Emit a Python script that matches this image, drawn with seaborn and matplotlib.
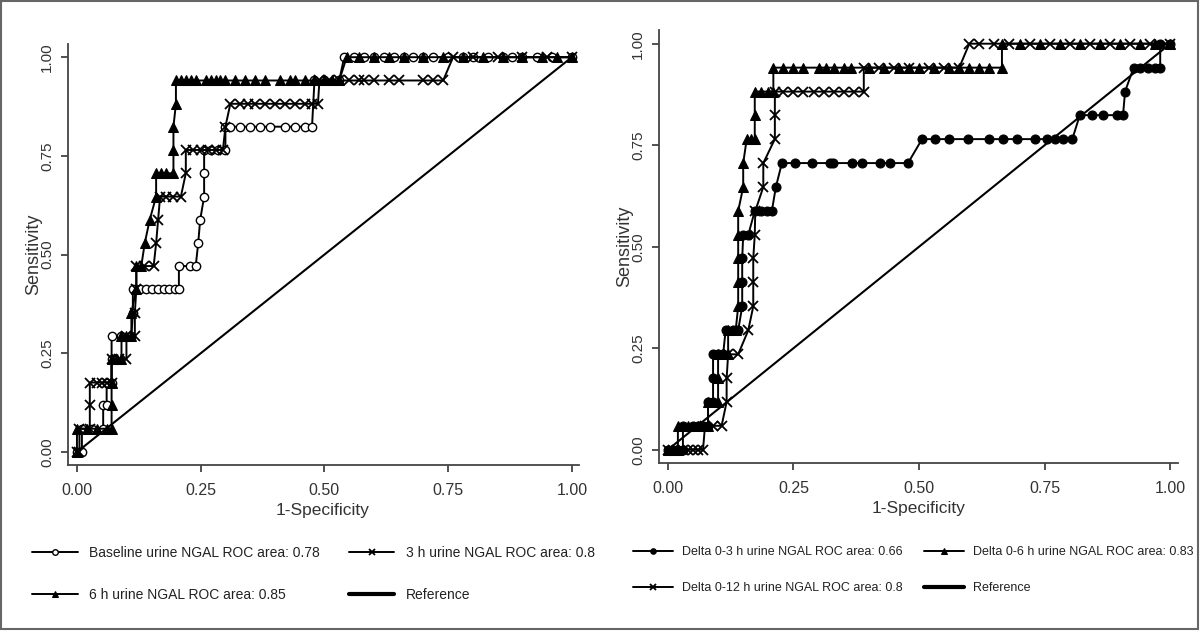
# ROC curves for urine NGAL, two panels, Stata-like look

import pandas as pd
import matplotlib
matplotlib.use('Agg')
from matplotlib import pyplot as plt
from matplotlib.patches import Rectangle
import seaborn as sns

sns.set_style('ticks')
FONT = ['Liberation Sans', 'DejaVu Sans']
plt.rcParams['font.family'] = FONT

# Data: left panel (1-specificity, sensitivity)
base_x = [0, 0.01, 0.01, 0.03, 0.053, 0.053, 0.06, 0.06, 0.07, 0.07, 0.07, 0.09, 0.11, 0.113, 0.113,
          0.128, 0.14, 0.152, 0.163, 0.175, 0.187, 0.198, 0.206, 0.206, 0.228, 0.24, 0.245, 0.249,
          0.257, 0.257, 0.257, 0.27, 0.285, 0.30, 0.30, 0.31, 0.33, 0.35, 0.37, 0.39, 0.42, 0.44,
          0.46, 0.475, 0.48, 0.50, 0.53, 0.54, 0.56, 0.58, 0.60, 0.62, 0.64, 0.66, 0.68, 0.70,
          0.72, 0.75, 0.78, 0.80, 0.83, 0.86, 0.88, 0.90, 0.93, 0.96, 1.0]
base_y = [0, 0, 0.059, 0.059, 0.059, 0.118, 0.118, 0.176, 0.176, 0.235, 0.294, 0.294, 0.294, 0.353,
          0.412, 0.412, 0.412, 0.412, 0.412, 0.412, 0.412, 0.412, 0.412, 0.471, 0.471, 0.471, 0.529,
          0.588, 0.647, 0.706, 0.765, 0.765, 0.765, 0.765, 0.824, 0.824, 0.824, 0.824, 0.824, 0.824,
          0.824, 0.824, 0.824, 0.824, 0.941, 0.941, 0.941, 1.0, 1.0, 1.0, 1.0, 1.0, 1.0, 1.0, 1.0,
          1.0, 1.0, 1.0, 1.0, 1.0, 1.0, 1.0, 1.0, 1.0, 1.0, 1.0, 1.0]

h3_x = [0, 0.005, 0.005, 0.026, 0.026, 0.026, 0.04, 0.05, 0.06, 0.07, 0.07, 0.085, 0.10, 0.10, 0.117,
        0.117, 0.12, 0.12, 0.135, 0.155, 0.16, 0.164, 0.168, 0.18, 0.195, 0.21, 0.22, 0.22, 0.235,
        0.25, 0.265, 0.28, 0.295, 0.30, 0.31, 0.33, 0.345, 0.36, 0.38, 0.40, 0.42, 0.44, 0.46,
        0.475, 0.487, 0.49, 0.51, 0.53, 0.55, 0.57, 0.58, 0.60, 0.63, 0.65, 0.70, 0.72, 0.74,
        0.76, 0.80, 0.85, 0.90, 0.95, 1.0]
h3_y = [0, 0, 0.059, 0.059, 0.118, 0.176, 0.176, 0.176, 0.176, 0.176, 0.235, 0.235, 0.235, 0.294,
        0.294, 0.353, 0.412, 0.471, 0.471, 0.471, 0.529, 0.588, 0.647, 0.647, 0.647, 0.647, 0.706,
        0.765, 0.765, 0.765, 0.765, 0.765, 0.765, 0.824, 0.882, 0.882, 0.882, 0.882, 0.882, 0.882,
        0.882, 0.882, 0.882, 0.882, 0.882, 0.941, 0.941, 0.941, 0.941, 0.941, 0.941, 0.941, 0.941,
        0.941, 0.941, 0.941, 0.941, 1.0, 1.0, 1.0, 1.0, 1.0, 1.0]

h6_x = [0, 0, 0.02, 0.04, 0.06, 0.07, 0.07, 0.07, 0.07, 0.08, 0.09, 0.09, 0.10, 0.11, 0.11, 0.12,
        0.12, 0.13, 0.137, 0.147, 0.16, 0.16, 0.17, 0.18, 0.195, 0.195, 0.195, 0.20, 0.20, 0.21,
        0.22, 0.23, 0.24, 0.26, 0.27, 0.28, 0.29, 0.30, 0.32, 0.34, 0.36, 0.38, 0.41, 0.43, 0.44,
        0.46, 0.48, 0.50, 0.515, 0.53, 0.545, 0.57, 0.60, 0.63, 0.66, 0.70, 0.74, 0.78, 0.82,
        0.86, 0.90, 0.94, 0.97, 1.0]
h6_y = [0, 0.059, 0.059, 0.059, 0.059, 0.059, 0.118, 0.176, 0.235, 0.235, 0.235, 0.294, 0.294,
        0.294, 0.353, 0.412, 0.471, 0.471, 0.529, 0.588, 0.647, 0.706, 0.706, 0.706, 0.706, 0.765,
        0.824, 0.882, 0.941, 0.941, 0.941, 0.941, 0.941, 0.941, 0.941, 0.941, 0.941, 0.941, 0.941,
        0.941, 0.941, 0.941, 0.941, 0.941, 0.941, 0.941, 0.941, 0.941, 0.941, 0.941, 1.0, 1.0,
        1.0, 1.0, 1.0, 1.0, 1.0, 1.0, 1.0, 1.0, 1.0, 1.0, 1.0, 1.0]

# Data: right panel
d3_x = [0, 0.01, 0.02, 0.03, 0.03, 0.05, 0.06, 0.07, 0.08, 0.08, 0.09, 0.09, 0.09, 0.10, 0.11,
        0.115, 0.13, 0.14, 0.148, 0.148, 0.148, 0.15, 0.16, 0.173, 0.185, 0.197, 0.207, 0.215,
        0.227, 0.253, 0.287, 0.323, 0.329, 0.367, 0.386, 0.422, 0.442, 0.478, 0.506, 0.532, 0.56,
        0.598, 0.639, 0.667, 0.695, 0.731, 0.755, 0.77, 0.787, 0.805, 0.82, 0.845, 0.867, 0.894,
        0.906, 0.91, 0.927, 0.94, 0.955, 0.97, 0.98, 0.98, 1.0]
d3_y = [0, 0, 0, 0, 0.059, 0.059, 0.059, 0.059, 0.059, 0.118, 0.118, 0.176, 0.235, 0.235, 0.235,
        0.294, 0.294, 0.294, 0.353, 0.412, 0.471, 0.529, 0.529, 0.588, 0.588, 0.588, 0.588, 0.647,
        0.706, 0.706, 0.706, 0.706, 0.706, 0.706, 0.706, 0.706, 0.706, 0.706, 0.765, 0.765, 0.765,
        0.765, 0.765, 0.765, 0.765, 0.765, 0.765, 0.765, 0.765, 0.765, 0.824, 0.824, 0.824, 0.824,
        0.824, 0.882, 0.941, 0.941, 0.941, 0.941, 0.941, 1.0, 1.0]

d6_x = [0, 0.01, 0.02, 0.02, 0.04, 0.06, 0.08, 0.08, 0.10, 0.10, 0.10, 0.12, 0.12, 0.135, 0.14,
        0.14, 0.14, 0.14, 0.14, 0.15, 0.15, 0.157, 0.165, 0.173, 0.173, 0.173, 0.185, 0.20, 0.21,
        0.21, 0.23, 0.25, 0.27, 0.30, 0.315, 0.33, 0.35, 0.365, 0.40, 0.43, 0.46, 0.48, 0.50, 0.53,
        0.56, 0.58, 0.60, 0.62, 0.64, 0.665, 0.665, 0.70, 0.74, 0.78, 0.82, 0.86, 0.90, 0.94,
        0.97, 1.0]
d6_y = [0, 0, 0, 0.059, 0.059, 0.059, 0.059, 0.118, 0.118, 0.176, 0.235, 0.235, 0.294, 0.294,
        0.353, 0.412, 0.471, 0.529, 0.588, 0.647, 0.706, 0.765, 0.765, 0.765, 0.824, 0.882, 0.882,
        0.882, 0.882, 0.941, 0.941, 0.941, 0.941, 0.941, 0.941, 0.941, 0.941, 0.941, 0.941, 0.941,
        0.941, 0.941, 0.941, 0.941, 0.941, 0.941, 0.941, 0.941, 0.941, 0.941, 1.0, 1.0, 1.0, 1.0,
        1.0, 1.0, 1.0, 1.0, 1.0, 1.0]

d12_x = [0, 0.01, 0.03, 0.04, 0.05, 0.06, 0.07, 0.074, 0.09, 0.107, 0.117, 0.117, 0.12, 0.14,
         0.16, 0.17, 0.17, 0.17, 0.173, 0.174, 0.19, 0.19, 0.213, 0.213, 0.213, 0.23, 0.25, 0.27,
         0.29, 0.31, 0.33, 0.35, 0.37, 0.39, 0.39, 0.42, 0.45, 0.48, 0.52, 0.55, 0.58, 0.60, 0.62,
         0.65, 0.68, 0.72, 0.76, 0.80, 0.84, 0.88, 0.92, 0.96, 1.0]
d12_y = [0, 0, 0, 0, 0, 0, 0, 0.059, 0.059, 0.059, 0.118, 0.176, 0.235, 0.235, 0.294, 0.353,
         0.412, 0.471, 0.529, 0.588, 0.647, 0.706, 0.765, 0.824, 0.882, 0.882, 0.882, 0.882, 0.882,
         0.882, 0.882, 0.882, 0.882, 0.882, 0.941, 0.941, 0.941, 0.941, 0.941, 0.941, 0.941, 1.0,
         1.0, 1.0, 1.0, 1.0, 1.0, 1.0, 1.0, 1.0, 1.0, 1.0, 1.0]

ref_x = [0, 1]
ref_y = [0, 1]

ticks = [0, 0.25, 0.5, 0.75, 1.0]
tick_labels = ['0.00', '0.25', '0.50', '0.75', '1.00']

left_curves = [
    (base_x, base_y, 'Baseline urine NGAL ROC area: 0.78', dict(marker='o', markersize=6, markerfacecolor='white', markeredgewidth=1)),
    (h3_x, h3_y, '3 h urine NGAL ROC area: 0.8', dict(marker='x', markersize=7, markeredgewidth=1.3)),
    (h6_x, h6_y, '6 h urine NGAL ROC area: 0.85', dict(marker='^', markersize=6.5, markerfacecolor='black')),
]
right_curves = [
    (d3_x, d3_y, 'Delta 0-3 h urine NGAL ROC area: 0.66', dict(marker='o', markersize=6.5, markerfacecolor='black')),
    (d6_x, d6_y, 'Delta 0-6 h urine NGAL ROC area: 0.83', dict(marker='^', markersize=6.5, markerfacecolor='black')),
    (d12_x, d12_y, 'Delta 0-12 h urine NGAL ROC area: 0.8', dict(marker='x', markersize=7, markeredgewidth=1.3)),
]

fig = plt.figure(figsize=(12, 6.31), dpi=100)
ax1 = fig.add_axes([0.0567, 0.263, 0.426, 0.667])
ax2 = fig.add_axes([0.549, 0.266, 0.4325, 0.686])


def draw_panel(ax, curves):
    for xs, ys, lab, style in curves:
        df = pd.DataFrame({'fpr': xs, 'tpr': ys})
        sns.lineplot(data=df, x='fpr', y='tpr', sort=False, estimator=None, color='black',
                     linewidth=1.4, markeredgecolor='black', label=lab, ax=ax, **style)
    sns.lineplot(x=ref_x, y=ref_y, color='black', linewidth=1.5, label='Reference', ax=ax)
    ax.set_xlim(-0.018, 1.015)
    ax.set_ylim(-0.033, 1.033)
    ax.set_xticks(ticks)
    ax.set_xticklabels(tick_labels, fontsize=11.5)
    ax.set_yticks(ticks)
    ax.set_yticklabels(tick_labels, fontsize=11, rotation=90, va='center')
    ax.tick_params(axis='x', length=5, width=1.2, color='#333333', pad=8, labelcolor='#333333')
    ax.tick_params(axis='y', length=5, width=1.2, color='#333333', pad=5, labelcolor='#333333')
    sns.despine(ax=ax)
    for s in ['left', 'bottom']:
        ax.spines[s].set_color('#444444')
        ax.spines[s].set_linewidth(1.3)
    ax.set_xlabel('1-Specificity', fontsize=12.5, color='#333333')
    ax.set_ylabel('Sensitivity', fontsize=13, color='#333333')
    ax.get_legend().remove()


draw_panel(ax1, left_curves)
draw_panel(ax2, right_curves)
ax1.xaxis.set_label_coords(0.497, -0.09)
ax1.yaxis.set_label_coords(-0.05, 0.5)
ax2.xaxis.set_label_coords(0.5, -0.087)
ax2.yaxis.set_label_coords(-0.05, 0.5)


def add_legend(ax, order, anchor, size, lspace, cspace, hlen, hpad):
    h, l = ax.get_legend_handles_labels()
    h = [h[i] for i in order]
    l = [l[i] for i in order]
    leg = fig.legend(h, l, loc='upper left', bbox_to_anchor=anchor, ncol=2, frameon=False,
                     borderpad=0, borderaxespad=0, handlelength=hlen, handletextpad=hpad,
                     labelspacing=lspace, columnspacing=cspace,
                     prop={'size': size})
    for t in leg.get_texts():
        t.set_color('#222222')
    for hd in leg.legend_handles:
        hd.set_markersize(4)
        if hd.get_label() == 'Reference':
            hd.set_linewidth(3)
    return leg


add_legend(ax1, [0, 2, 1, 3], (0.027, 0.135), 10, 2.0, 2.15, 3.25, 0.8)
add_legend(ax2, [0, 2, 1, 3], (0.5275, 0.134), 9, 1.9, 1.7, 3.2, 0.72)

fig.add_artist(Rectangle((0.001, 0.003), 0.997, 0.995, transform=fig.transFigure,
                         fill=False, edgecolor='#666666', linewidth=1.5))

fig.savefig('out.png', dpi=100)
